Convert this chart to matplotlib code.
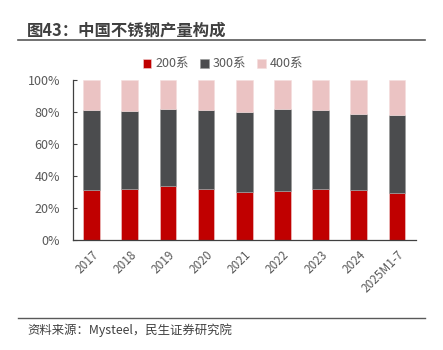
import numpy as np
import matplotlib.pyplot as plt
from matplotlib.lines import Line2D

plt.rcParams['font.family'] = ['Noto Sans CJK SC', 'DejaVu Sans']

# 数据：各系列占比（%）
years = ['2017', '2018', '2019', '2020', '2021', '2022', '2023', '2024', '2025M1-7']
s200 = [31.3, 31.9, 34.0, 31.9, 29.8, 30.6, 31.9, 31.3, 29.4]
s300 = [50.1, 48.7, 47.7, 49.5, 50.2, 51.1, 49.5, 47.5, 49.1]
s400 = [18.6, 19.4, 18.3, 18.6, 20.0, 18.3, 18.6, 21.2, 21.5]

c200 = '#C00000'
c300 = '#4B4C4E'
c400 = '#EBC3C3'
txt = '#595959'

fig = plt.figure(figsize=(4.43, 3.5), dpi=100)
ax = fig.add_axes([0.1637, 0.314, 0.7753, 0.457])

x = np.arange(len(years))
w = 0.44
ax.bar(x, s200, w, color=c200, edgecolor='#f0d0d0', linewidth=0.4, label='200系')
ax.bar(x, s300, w, bottom=s200, color=c300, edgecolor='#999999', linewidth=0.4, label='300系')
bot = np.array(s200) + np.array(s300)
ax.bar(x, s400, w, bottom=bot, color=c400, edgecolor='#f5dede', linewidth=0.4, label='400系')

ax.set_xlim(-0.5, len(years) - 0.5)
ax.set_ylim(0, 100)
ax.set_yticks(range(0, 101, 20))
ax.set_yticklabels([f'{v}%' for v in range(0, 101, 20)])
ax.set_xticks(x)
ax.set_xticklabels(years, rotation=45, ha='right', rotation_mode='anchor')

for s in ['top', 'right']:
    ax.spines[s].set_visible(False)
for s in ['left', 'bottom']:
    ax.spines[s].set_color('#404040')
    ax.spines[s].set_linewidth(0.9)
ax.tick_params(axis='y', direction='in', length=3, color='#404040', labelsize=9, labelcolor=txt, pad=9)
ax.tick_params(axis='x', length=0, labelsize=8.5, labelcolor=txt, pad=6)

fig.legend(loc='center', bbox_to_anchor=(223 / 443, 1 - 64 / 350), ncol=3, frameon=False,
           fontsize=9, handlelength=0.7, handleheight=0.7, handletextpad=0.3,
           columnspacing=0.9, labelcolor=txt)

# 标题与来源
fig.text(27 / 443, 1 - 31 / 350, '图43：中国不锈钢产量构成', fontsize=11.8, fontweight='bold',
         color='#404040', va='center', ha='left')
fig.add_artist(Line2D([18 / 443, 425 / 443], [1 - 40 / 350] * 2, color='#595959', linewidth=1.2))
fig.add_artist(Line2D([18 / 443, 425 / 443], [1 - 318 / 350] * 2, color='#595959', linewidth=1.0))
fig.text(27 / 443, 1 - 330 / 350, '资料来源：Mysteel，民生证券研究院', fontsize=8.9,
         color='#404040', va='center', ha='left')

fig.savefig('out.png', dpi=100)
